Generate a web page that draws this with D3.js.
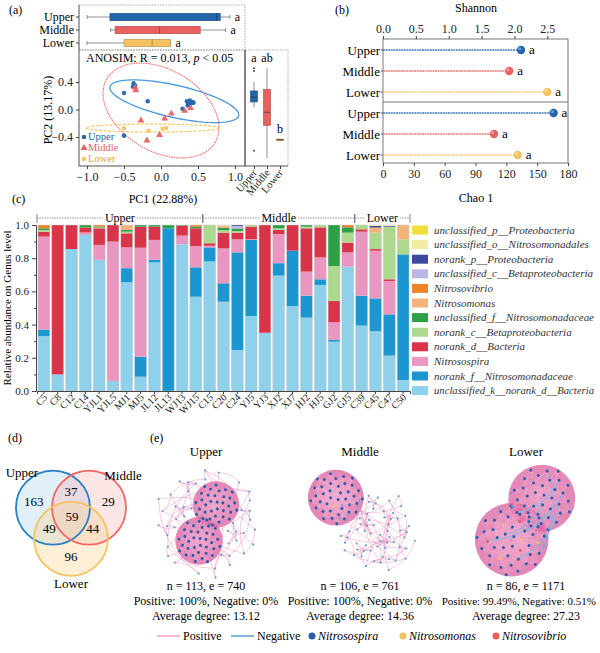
<!DOCTYPE html>
<html>
<head>
<meta charset="utf-8">
<script src="https://cdn.jsdelivr.net/npm/d3@7"></script>
<style>
  body { margin: 0; background: #fff; }
  svg { font-family: "Liberation Serif", "DejaVu Serif", serif; }
</style>
</head>
<body>
<svg id="chart" width="600" height="653"></svg>
<script>
// ---------- data: (a) PCoA ----------
const groups = ["Upper", "Middle", "Lower"];
// [whisker low, q1, median, q3, whisker high]
const pc1Stats = [[-1.0, -0.69, 0.75, 0.80, 0.93], [-0.68, -0.62, -0.02, 0.53, 0.87], [-1.0, -0.50, -0.12, 0.13, 0.13]];
const pc2Stats = [[0.03, 0.11, 0.18, 0.27, 0.40], [-0.71, -0.23, -0.04, 0.29, 0.60], [-0.45, -0.45, -0.44, -0.43, -0.43]];
const pc2Outliers = [[0.60, 0.56, -0.60], [], []];
const pc1Letters = ["a", "a", "a"];
const pc2Letters = ["a", "ab", "b"];
const upperPts = [[-0.37, 0.38], [-0.35, 0.35], [-0.38, 0.33], [-0.5, 0.24], [-0.18, 0.12], [-0.5, -0.38],
  [0.35, 0.12], [0.39, 0.13], [0.41, 0.09], [0.37, 0.08], [0.44, 0.10], [0.29, 0.01], [0.36, 0.06], [0.42, 0.11]];
const middlePts = [[-0.35, 0.32], [-0.34, 0.28], [0.32, -0.02], [0.40, 0.02], [0.14, -0.06], [0.05, -0.13],
  [-0.27, -0.16], [-0.02, -0.37], [-0.19, -0.45]];
const lowerPts = [[-0.5, -0.27], [-0.17, -0.31], [0.02, -0.28], [0.07, -0.27]];
// confidence ellipses: centre, half major axis vector, half minor axis vector (data units)
const ellipses = [[0.18, 0.12, 0.87, -0.21, -0.047, -0.229], [0, -0.015, 0.734, -0.459, -0.275, -0.516], [-0.11, -0.27, 0.905, 0, 0, 0.058]];

// ---------- data: (b) alpha diversity ----------
const shannon = [2.10, 1.92, 2.50];
const chao1 = [166, 108, 131];
const shannonLetters = ["a", "a", "a"];
const chaoLetters = ["a", "a", "a"];

// ---------- data: (c) genus composition ----------
const samples = ["C5", "C8", "C12", "C14", "YJL1", "YJL5", "MJ1", "MJ5", "JL12", "JL13", "WJ13", "WJ15",
  "C15", "C20", "C24", "YJ5", "YJ3", "XJ2", "XJ7", "HJ2", "HJ5", "GJ2", "GJ5", "C39", "C45", "C47", "C50"];
const groupSizes = [12, 11, 4];
// stacking order, bottom to top
const taxa = ["unclassified_k__norank_d__Bacteria", "norank_f__Nitrosomonadaceae", "Nitrosospira", "norank_d__Bacteria",
  "norank_c__Betaproteobacteria", "unclassified_f__Nitrosomonadaceae", "Nitrosomonas", "Nitrosovibrio",
  "unclassified_c__Betaproteobacteria", "norank_p__Proteobacteria", "unclassified_o__Nitrosomonadales", "unclassified_p__Proteobacteria"];
const unclassK = [.33, .10, .855, .94, .79, .06, .655, .086, .775, 0, .884, .568, .78, .538, .247, .452, .351, .695, .512, .442, .639, .297, .749, .394, .361, .213, .066];
const norankF = [.04, 0, 0, 0, 0, 0, .085, .121, .015, .98, 0, .177, .085, .111, .588, .458, 0, .075, .333, .132, .034, .01, 0, .18, .197, .249, .757];
const nitrosospira = [.56, 0, 0, .015, .09, .84, .125, .656, .12, 0, .052, .128, .01, .21, .079, .005, 0, .175, 0, .145, .132, .107, .086, .386, .287, .201, 0];
const norankD = [.03, .90, .145, .03, .10, .10, .085, .127, .08, 0, .06, .107, .015, .095, .04, .075, .649, .025, .155, .261, .181, .128, .059, .014, .01, .01, 0];
const norankC = [.01, 0, 0, 0, .005, 0, .01, 0, 0, 0, 0, 0, .11, .015, .01, .01, 0, .01, 0, .01, .014, .211, .06, .026, .099, .317, .091];
const unclassF = [.01, 0, 0, .015, .005, 0, .01, .01, .01, .02, .004, .01, 0, .015, .015, 0, 0, .02, 0, .01, 0, .247, .032, 0, 0, 0, 0];
const nitrosomonas = [0, 0, 0, 0, 0, 0, .03, 0, 0, 0, 0, 0, 0, .01, 0, 0, 0, 0, 0, 0, 0, 0, 0, 0, .026, 0, .086];
const nitrosovibrio = [.02, 0, 0, 0, .01, 0, 0, 0, 0, 0, 0, .01, 0, 0, 0, 0, 0, 0, 0, 0, 0, 0, .014, 0, .005, 0, 0];
const unclassC = [0, 0, 0, 0, 0, 0, 0, 0, 0, 0, 0, 0, 0, 0, .015, 0, 0, 0, 0, 0, 0, 0, 0, 0, 0, 0, 0];
const norankP = [0, 0, 0, 0, 0, 0, 0, 0, 0, 0, 0, 0, 0, 0, .006, 0, 0, 0, 0, 0, 0, 0, 0, 0, .01, .005, 0];
const unclassO = [0, 0, 0, 0, 0, 0, 0, 0, 0, 0, 0, 0, 0, .006, 0, 0, 0, 0, 0, 0, 0, 0, 0, 0, .005, .005, 0];
const unclassP = [0, 0, 0, 0, 0, 0, 0, 0, 0, 0, 0, 0, 0, 0, 0, 0, 0, 0, 0, 0, 0, 0, 0, 0, 0, 0, 0];
const abundance = [unclassK, norankF, nitrosospira, norankD, norankC, unclassF, nitrosomonas, nitrosovibrio, unclassC, norankP, unclassO, unclassP];

// ---------- data: (d) Venn ----------
const vennOnly = [163, 29, 96];          // Upper, Middle, Lower
const vennPairs = [37, 44, 49];          // U∩M, M∩L, U∩L
const vennAll = 59;

// ---------- data: (e) co-occurrence networks ----------
const netNodes = [113, 106, 86];
const netEdges = [740, 761, 1171];
const netPositive = ["100%", "100%", "99.49%"];
const netNegative = ["0%", "0%", "0.51%"];
const netDegree = ["13.12", "14.36", "27.23"];
const netModules = [
  [36, 34, 6, 5, 4, 4, 3, 3, 2, 2, 2, 2, 1, 1, 1, 1, 1, 1, 1, 1, 1, 1],
  [40, 9, 8, 7, 6, 5, 4, 4, 3, 3, 3, 2, 2, 1, 1, 1, 1, 1, 1, 1, 1, 1, 1],
  [44, 36, 2, 1, 1, 1, 1]
];
const netSomonas = [0, 1, 4];
const netVibrio = [0, 0, 3];

// ---------- styles ----------
const groupColors = ["#2166ac", "#e8615f", "#f5c35f"];
const taxaColors = ["#8fd0ea", "#1b96d1", "#e997c0", "#d8344a", "#acd98e", "#2ea046", "#f2b47c", "#ec8427", "#b9b7e6", "#3c4ba0", "#f1eda6", "#eedf3c"];

const svg = d3.select("#chart");

function styleAxis(g, size) {
  g.attr("font-family", null).attr("font-size", size);
  g.selectAll(".domain").attr("stroke", "#444");
  g.selectAll(".tick line").attr("stroke", "#444");
  g.selectAll(".tick text").attr("fill", "#222");
}

function panelLabel(t, x, y) {
  svg.append("text").attr("x", x).attr("y", y).attr("font-size", 12).text(t);
}

// squeeze a text so that it ends before the right edge
function fitRight(sel, right) {
  const n = sel.node(), w = n.getComputedTextLength(), x = +sel.attr("x");
  if (x + w > right) sel.attr("textLength", right - x).attr("lengthAdjust", "spacingAndGlyphs");
}

// ================= (a) =================
panelLabel("(a)", 9, 14);
const xA = d3.scaleLinear().domain([-1, 1]).range([87, 235]);
const yA = d3.scaleLinear().domain([-0.4, 0.4]).range([137, 82]);
const yTop = d3.scalePoint().domain(groups).range([17, 43]);
const xRight = d3.scalePoint().domain(groups).range([254, 280]);

const frames = [[79, 5, 166, 45], [79, 50, 166, 116], [245, 50, 43, 116]];
svg.selectAll(".frameA").data(frames).join("rect")
  .attr("x", d => d[0]).attr("y", d => d[1]).attr("width", d => d[2]).attr("height", d => d[3])
  .attr("fill", "none").attr("stroke", "#999").attr("stroke-width", 0.8).attr("stroke-dasharray", "1.5,1.2");
svg.append("line").attr("x1", 245).attr("x2", 245).attr("y1", 50).attr("y2", 166).attr("stroke", "#333").attr("stroke-width", 1);

// top horizontal boxplots (PC1)
const topG = svg.append("g");
groups.forEach((g, i) => {
  const s = pc1Stats[i], y = yTop(g);
  topG.append("line").attr("x1", xA(s[0])).attr("x2", xA(s[4])).attr("y1", y).attr("y2", y).attr("stroke", "#777").attr("stroke-width", 0.8);
  [s[0], s[4]].forEach(v => topG.append("line").attr("x1", xA(v)).attr("x2", xA(v)).attr("y1", y - 2).attr("y2", y + 2).attr("stroke", "#777").attr("stroke-width", 0.8));
  topG.append("rect").attr("x", xA(s[1])).attr("y", y - 3.7).attr("width", xA(s[3]) - xA(s[1])).attr("height", 7.4)
    .attr("fill", groupColors[i]).attr("stroke", d3.color(groupColors[i]).darker(0.8)).attr("stroke-width", 0.6);
  topG.append("line").attr("x1", xA(s[2])).attr("x2", xA(s[2])).attr("y1", y - 3.7).attr("y2", y + 3.7).attr("stroke", d3.color(groupColors[i]).darker(1.2)).attr("stroke-width", 0.8);
  topG.append("text").attr("x", xA(s[4]) + 5).attr("y", y + 4).attr("font-size", 12).text(pc1Letters[i]);
  topG.append("text").attr("x", 74).attr("y", y + 4).attr("text-anchor", "end").attr("font-size", 12).text(g);
  topG.append("line").attr("x1", 76).attr("x2", 79).attr("y1", y).attr("y2", y).attr("stroke", "#444");
});

// ellipses
const ellStyles = [["#4a9ad8", null, 1.3], ["#ef7a7a", "1.6,0.8", 1.2], ["#f5c35f", "3,1.5", 1.2]];
ellipses.forEach((e, i) => {
  const pts = d3.range(72).map(t => {
    const a = t / 72 * 2 * Math.PI;
    return [xA(e[0] + e[2] * Math.cos(a) + e[4] * Math.sin(a)), yA(e[1] + e[3] * Math.cos(a) + e[5] * Math.sin(a))];
  });
  svg.append("path").attr("d", d3.line().curve(d3.curveLinearClosed)(pts)).attr("fill", "none")
    .attr("stroke", ellStyles[i][0]).attr("stroke-width", ellStyles[i][2]).attr("stroke-dasharray", ellStyles[i][1]);
});

// scatter points
const symTypes = [d3.symbolCircle, d3.symbolTriangle, d3.symbolSquare];
const symSizes = [16, 20, 14];
[upperPts, middlePts, lowerPts].forEach((pts, i) => {
  svg.append("g").selectAll("path").data(pts).join("path")
    .attr("transform", d => `translate(${xA(d[0])},${yA(d[1])})`)
    .attr("d", d3.symbol(symTypes[i], symSizes[i]))
    .attr("fill", groupColors[i]).attr("fill-opacity", 0.95);
});
// scatter legend
groups.forEach((g, i) => {
  const y = 140 + i * 11;
  svg.append("path").attr("transform", `translate(84,${y - 3})`).attr("d", d3.symbol(symTypes[i], symSizes[i])).attr("fill", groupColors[i]);
  svg.append("text").attr("x", 88).attr("y", y).attr("font-size", 10.5).attr("fill", i === 2 ? "#d9a63d" : groupColors[i]).text(g);
});

const anosim = svg.append("text").attr("x", 86).attr("y", 62).attr("font-size", 12);
anosim.append("tspan").text("ANOSIM: R = 0.013, ");
anosim.append("tspan").attr("font-style", "italic").text("p");
anosim.append("tspan").text(" < 0.05");

// axes (a)
svg.append("g").attr("transform", "translate(79,0)")
  .call(d3.axisLeft(yA).tickValues([-0.4, 0, 0.4]).tickFormat(d3.format(".1f")).tickSize(3))
  .call(g => g.select(".domain").remove()).call(g => styleAxis(g, 12));
svg.append("g").attr("transform", "translate(0,166)")
  .call(d3.axisBottom(xA).tickValues([-1, -0.5, 0, 0.5, 1]).tickFormat(d3.format(".1f")).tickSize(3))
  .call(g => g.select(".domain").remove()).call(g => styleAxis(g, 12));
svg.append("text").attr("transform", "translate(52,110) rotate(-90)").attr("text-anchor", "middle").attr("font-size", 12).text("PC2 (13.17%)");
svg.append("text").attr("x", 163).attr("y", 203).attr("text-anchor", "middle").attr("font-size", 12).text("PC1 (22.88%)");

// right vertical boxplots (PC2)
groups.forEach((g, i) => {
  const s = pc2Stats[i], x = xRight(g), col = groupColors[i];
  svg.append("line").attr("x1", x).attr("x2", x).attr("y1", yA(s[0])).attr("y2", yA(s[4])).attr("stroke", "#777").attr("stroke-width", 0.8);
  svg.append("rect").attr("x", x - 3.5).attr("y", yA(s[3])).attr("width", 7).attr("height", Math.max(1.5, yA(s[1]) - yA(s[3])))
    .attr("fill", i === 2 ? "#b07a50" : col).attr("stroke", d3.color(col).darker(0.8)).attr("stroke-width", 0.6);
  svg.append("line").attr("x1", x - 3.5).attr("x2", x + 3.5).attr("y1", yA(s[2])).attr("y2", yA(s[2])).attr("stroke", "#333").attr("stroke-width", 0.7);
  pc2Outliers[i].forEach(v => svg.append("circle").attr("cx", x).attr("cy", yA(v)).attr("r", 0.9).attr("fill", "#333"));
  const top = d3.min([yA(s[4])].concat(pc2Outliers[i].map(yA)));
  svg.append("text").attr("x", x).attr("y", top - 6).attr("text-anchor", "middle").attr("font-size", 12).text(pc2Letters[i]);
});
svg.append("g").attr("transform", "translate(0,166)")
  .call(d3.axisBottom(xRight).tickSize(3))
  .call(g => g.select(".domain").remove()).call(g => styleAxis(g, 10.5))
  .call(g => g.selectAll(".tick text").attr("text-anchor", "end").attr("dy", null).attr("y", 0)
    .attr("transform", "translate(3,7) rotate(-50)"));
svg.append("line").attr("x1", 79).attr("x2", 288).attr("y1", 166).attr("y2", 166).attr("stroke", "#444").attr("stroke-width", 0.8);
svg.append("line").attr("x1", 79).attr("x2", 79).attr("y1", 5).attr("y2", 166).attr("stroke", "#444").attr("stroke-width", 0.8);

// ================= (b) =================
panelLabel("(b)", 335, 14);
const xShannon = d3.scaleLinear().domain([0, 2.815]).range([383, 568]);
const xChao = d3.scaleLinear().domain([0, 180]).range([383, 568]);
const yB1 = d3.scalePoint().domain(groups).range([50, 92]);
const yB2 = d3.scalePoint().domain(groups).range([113, 155]);
svg.append("rect").attr("x", 383).attr("y", 39).attr("width", 185).attr("height", 124).attr("fill", "none").attr("stroke", "#555").attr("stroke-width", 0.8);
svg.append("line").attr("x1", 383).attr("x2", 568).attr("y1", 102).attr("y2", 102).attr("stroke", "#555").attr("stroke-width", 0.8);
svg.append("g").attr("transform", "translate(0,39)")
  .call(d3.axisTop(xShannon).tickValues([0, 0.5, 1, 1.5, 2, 2.5]).tickFormat(d3.format(".1f")).tickSize(3))
  .call(g => g.select(".domain").remove()).call(g => styleAxis(g, 12));
svg.append("g").attr("transform", "translate(0,163)")
  .call(d3.axisBottom(xChao).tickValues(d3.range(0, 181, 30)).tickSize(3))
  .call(g => g.select(".domain").remove()).call(g => styleAxis(g, 12));
svg.append("text").attr("x", 476).attr("y", 12).attr("text-anchor", "middle").attr("font-size", 12).text("Shannon");
svg.append("text").attr("x", 476).attr("y", 202).attr("text-anchor", "middle").attr("font-size", 12).text("Chao 1");

function lollipop(vals, letters, xs, ys) {
  groups.forEach((g, i) => {
    const y = ys(g), col = groupColors[i];
    svg.append("line").attr("x1", xs(0)).attr("x2", xs(vals[i])).attr("y1", y).attr("y2", y)
      .attr("stroke", col).attr("stroke-width", 1.6).attr("stroke-opacity", 0.85).attr("stroke-dasharray", "2,0.6");
    svg.append("circle").attr("cx", xs(vals[i])).attr("cy", y).attr("r", 4.2).attr("fill", col);
    svg.append("circle").attr("cx", xs(vals[i]) - 1.3).attr("cy", y - 1.3).attr("r", 1.6).attr("fill", "#fff").attr("fill-opacity", 0.35);
    svg.append("text").attr("x", xs(vals[i]) + 8).attr("y", y + 4).attr("font-size", 13).text(letters[i]);
    svg.append("text").attr("x", 380).attr("y", y + 4.5).attr("text-anchor", "end").attr("font-size", 13).text(g);
    svg.append("line").attr("x1", 381).attr("x2", 383).attr("y1", y).attr("y2", y).attr("stroke", "#555");
  });
}
lollipop(shannon, shannonLetters, xShannon, yB1);
lollipop(chao1, chaoLetters, xChao, yB2);

// ================= (c) =================
panelLabel("(c)", 12, 203);
const xC = d3.scaleBand().domain(samples).range([37, 410]).paddingInner(0.14).paddingOuter(0.07);
const yC = d3.scaleLinear().domain([0, 1]).range([391, 225]);
const table = samples.map((s, i) => {
  const row = { sample: s };
  taxa.forEach((t, j) => { row[t] = abundance[j][i]; });
  return row;
});
const stacked = d3.stack().keys(taxa)(table);
svg.append("g").selectAll("g").data(stacked).join("g")
  .attr("fill", (d, i) => taxaColors[i])
  .selectAll("rect").data(d => d).join("rect")
  .attr("x", d => xC(d.data.sample)).attr("width", xC.bandwidth())
  .attr("y", d => yC(d[1])).attr("height", d => Math.max(0, yC(d[0]) - yC(d[1])));
svg.append("g").selectAll("rect").data(samples).join("rect")
  .attr("x", d => xC(d)).attr("width", xC.bandwidth()).attr("y", yC(1)).attr("height", yC(0) - yC(1))
  .attr("fill", "none").attr("stroke", "#c8c8c8").attr("stroke-width", 0.5);

svg.append("g").attr("transform", "translate(36,0)")
  .call(d3.axisLeft(yC).tickValues([0, 0.2, 0.4, 0.6, 0.8, 1]).tickFormat(d3.format(".1f")).tickSize(4))
  .call(g => styleAxis(g, 11));
svg.append("g").attr("transform", "translate(36,0)")
  .call(d3.axisLeft(yC).tickValues([0.1, 0.3, 0.5, 0.7, 0.9]).tickFormat("").tickSize(2))
  .call(g => g.select(".domain").remove()).call(g => styleAxis(g, 11));
svg.append("g").attr("transform", "translate(0,391)")
  .call(d3.axisBottom(xC).tickSize(3))
  .call(g => g.select(".domain").attr("stroke", "#444"))
  .call(g => styleAxis(g, 10))
  .call(g => g.selectAll(".tick text").attr("text-anchor", "end").attr("dy", null).attr("y", 0)
    .attr("transform", "translate(4,7) rotate(-45)"));
svg.append("text").attr("transform", "translate(11,308) rotate(-90)").attr("text-anchor", "middle").attr("font-size", 11)
  .text("Relative abundance on Genus level");

// group brackets
let start = 0;
groupSizes.forEach((n, i) => {
  const x0 = xC(samples[start]) - 1, x1 = xC(samples[start + n - 1]) + xC.bandwidth() + 1, y = 218;
  const bg = svg.append("g");
  bg.append("line").attr("x1", x0).attr("x2", x1).attr("y1", y).attr("y2", y).attr("stroke", "#777").attr("stroke-width", 0.8).attr("stroke-dasharray", "1.5,1");
  [x0, x1].forEach(x => bg.append("line").attr("x1", x).attr("x2", x).attr("y1", y - 4).attr("y2", y + 5).attr("stroke", "#666").attr("stroke-width", 0.8));
  const lbl = bg.append("text").attr("x", (x0 + x1) / 2).attr("y", y + 4).attr("text-anchor", "middle").attr("font-size", 12).text(groups[i]);
  const bb = lbl.node().getBBox();
  bg.insert("rect", "text").attr("x", bb.x - 2).attr("y", y - 3).attr("width", bb.width + 4).attr("height", 6).attr("fill", "#fff");
  start += n;
});

// legend (c)
const legC = svg.append("g");
taxa.slice().reverse().forEach((t, i) => {
  const j = taxa.length - 1 - i, y = 230 + i * 14.6;
  legC.append("rect").attr("x", 412).attr("y", y - 4.5).attr("width", 16).attr("height", 9).attr("fill", taxaColors[j]);
  legC.append("text").attr("x", 434).attr("y", y + 3.5).attr("font-size", 11).attr("font-style", "italic").attr("fill", "#333").text(t)
    .call(s => fitRight(s, 594));
});

// ================= (d) Venn =================
panelLabel("(d)", 8, 442);
const vennC = [71, 518], vennD = 20.8, vennR = 37;
const vennAng = [210, 330, 90].map(a => a * Math.PI / 180);
const vennFill = ["#a9d0ec", "#f6b4b4", "#f8d58c"];
const vennStroke = ["#2a7fc4", "#ee6666", "#f4c35e"];
const polar = (a, d) => [vennC[0] + d * Math.cos(a), vennC[1] + d * Math.sin(a)];
vennAng.forEach((a, i) => {
  const [x, y] = polar(a, vennD);
  svg.append("circle").attr("cx", x).attr("cy", y).attr("r", vennR).attr("fill", vennFill[i]).attr("fill-opacity", 0.35);
});
vennAng.forEach((a, i) => {
  const [x, y] = polar(a, vennD);
  svg.append("circle").attr("cx", x).attr("cy", y).attr("r", vennR).attr("fill", "none").attr("stroke", vennStroke[i]).attr("stroke-width", 1.8);
});
const vennText = (t, p) => svg.append("text").attr("x", p[0]).attr("y", p[1]).attr("text-anchor", "middle").attr("dominant-baseline", "middle").attr("font-size", 13).text(t);
vennOnly.forEach((v, i) => vennText(v, polar(vennAng[i] - (i === 2 ? 0 : (i === 0 ? 0.15 : -0.15)), 40)));
vennPairs.forEach((v, i) => vennText(v, polar(vennAng[(i + 2) % 3] + Math.PI, 25)));
vennText(vennAll, polar(0, 1));
[[222, 66], [322, 66], [90, 67]].forEach((p, i) => vennText(groups[i], polar(p[0] * Math.PI / 180, p[1])));

// ================= (e) networks =================
panelLabel("(e)", 150, 442);
const genusColors = ["#2b5ca8", "#f1c068", "#e4605a"];

function drawNetwork(ni, cx, cy, rot, spread, sparseWeight, groupSparse, sparseScale) {
  const R = 52;
  const nNeg = Math.round(netEdges[ni] * parseFloat(netNegative[ni]) / 100);
  const modData = netModules[ni].map(s => ({ size: s }));
  const denseData = modData.filter(d => d.size >= 20), sparseData = modData.filter(d => d.size < 20);
  const kids = groupSparse ? denseData.concat([{ children: sparseData }]) : modData;
  const root = d3.hierarchy({ children: kids })
    .sum(d => d.size ? (d.size >= 20 ? d.size : d.size * sparseWeight) : 0);
  d3.pack().size([2 * R, 2 * R]).padding(1.5)(root);
  const nodes = [], mods = [];
  root.leaves().forEach(leaf => {
    const size = leaf.data.size, dense = size >= 20, ids = [];
    const rad = leaf.r * (dense ? spread : 0.9);
    for (let k = 0; k < size; k++) {
      const rr = size === 1 ? 0 : rad * Math.sqrt((k + 0.5) / size), ang = k * 2.39996;
      ids.push(nodes.length);
      nodes.push({ x: leaf.x - R + rr * Math.cos(ang), y: leaf.y - R + rr * Math.sin(ang), dense, genus: 0 });
    }
    mods.push({ ids, dense, x: leaf.x - R, y: leaf.y - R, r: rad });
  });
  // loosen the sparse part around its own centre
  const loose = nodes.filter(d => !d.dense);
  if (loose.length && sparseScale !== 1) {
    const mx = d3.mean(loose, d => d.x), my = d3.mean(loose, d => d.y);
    loose.forEach(d => { d.x = mx + (d.x - mx) * sparseScale; d.y = my + (d.y - my) * sparseScale; });
  }
  const denseMods = mods.filter(m => m.dense), sparseMods = mods.filter(m => !m.dense);
  for (let j = 0; j < netSomonas[ni]; j++) nodes[denseMods[0].ids[j * 7 + 3]].genus = 1;
  for (let j = 0; j < netVibrio[ni]; j++) nodes[denseMods[0].ids[j * 7 + 6]].genus = 2;

  const sparseLinks = [], denseLinks = [], negLinks = [];
  sparseMods.forEach((m, j) => {
    const s = m.ids.length;
    if (s === 2) sparseLinks.push([m.ids[0], m.ids[1]]);
    if (s >= 3) m.ids.forEach((id, k) => sparseLinks.push([id, m.ids[(k + 1) % s]]));
    if (j + 1 < sparseMods.length) sparseLinks.push([m.ids[0], sparseMods[j + 1].ids[0]]);
    if (j + 3 < sparseMods.length && s > 1) sparseLinks.push([m.ids[s - 1], sparseMods[j + 3].ids[0]]);
  });
  if (sparseMods.length) denseMods.forEach((d, j) => sparseLinks.push([d.ids[d.ids.length - 1 - j], sparseMods[j % sparseMods.length].ids[0]]));
  for (let j = 0; j < nNeg; j++) negLinks.push([denseMods[0].ids[j * 6 + 2], denseMods[1].ids[j * 5 + 1]]);
  const denseTotal = d3.sum(denseMods, m => m.ids.length);
  const kDeg = Math.round((netEdges[ni] - nNeg - sparseLinks.length) / denseTotal);
  denseMods.forEach(m => {
    const s = m.ids.length;
    m.ids.forEach((id, a) => {
      for (let o = 1; o <= kDeg; o++) {
        const b = (a + o * o) % s;
        if (b !== a) denseLinks.push([id, m.ids[b]]);
      }
    });
  });

  const arc = d => {
    const a = nodes[d[0]], b = nodes[d[1]];
    const mx = (a.x + b.x) / 2 - (b.y - a.y) * 0.25, my = (a.y + b.y) / 2 + (b.x - a.x) * 0.25;
    return `M${a.x},${a.y}Q${mx},${my} ${b.x},${b.y}`;
  };
  const g = svg.append("g").attr("transform", `translate(${cx},${cy}) rotate(${rot})`);
  // the mass of edges inside a dense module
  g.append("g").selectAll("circle").data(denseMods).join("circle")
    .attr("cx", d => d.x).attr("cy", d => d.y).attr("r", d => d.r + 1.2)
    .attr("fill", "#d9609f").attr("fill-opacity", 0.75);
  g.append("g").selectAll("line").data(denseLinks).join("line")
    .attr("x1", d => nodes[d[0]].x).attr("y1", d => nodes[d[0]].y)
    .attr("x2", d => nodes[d[1]].x).attr("y2", d => nodes[d[1]].y)
    .attr("stroke", "#f3b6d4").attr("stroke-opacity", 0.22).attr("stroke-width", 0.5);
  g.append("g").selectAll("path").data(sparseLinks).join("path").attr("d", arc)
    .attr("fill", "none").attr("stroke", "#e98ab8").attr("stroke-opacity", 0.8).attr("stroke-width", 0.5);
  g.append("g").selectAll("path").data(negLinks).join("path").attr("d", arc)
    .attr("fill", "none").attr("stroke", "#7fbbe6").attr("stroke-width", 1);
  g.append("g").selectAll("circle").data(nodes).join("circle")
    .attr("cx", d => d.x).attr("cy", d => d.y).attr("r", d => d.dense ? 1.5 : 1.1)
    .attr("fill", d => d.dense ? genusColors[d.genus] : "#6d9fd6");

  const tx = svg.append("g").attr("text-anchor", "middle").attr("font-size", 12);
  tx.append("text").attr("x", cx).attr("y", 456).attr("font-size", 13).text(groups[ni]);
  tx.append("text").attr("x", cx).attr("y", 590).text(`n = ${netNodes[ni]}, e = ${netEdges[ni]}`);
  const pn = tx.append("text").attr("x", cx).attr("y", 605).text(`Positive: ${netPositive[ni]}, Negative: ${netNegative[ni]}`);
  const w = pn.node().getComputedTextLength();
  if (cx + w / 2 > 596) {
    const left = Math.max(cx - w / 2, 441), fs = 12 * Math.min(1, (596 - left) / w);
    pn.attr("text-anchor", "start").attr("x", left).attr("font-size", fs.toFixed(2));
  }
  tx.append("text").attr("x", cx).attr("y", 620).text(`Average degree: ${netDegree[ni]}`);
}
drawNetwork(0, 206, 522, -65, 1.15, 2.2, false, 1.15);
drawNetwork(1, 360, 518, 40, 1.4, 0.8, true, 1.55);
drawNetwork(2, 526, 520, -54, 1.36, 2.2, false, 1);

// legend (e)
const legE = svg.append("g").attr("font-size", 12);
[["Positive", "#e98ab8", 157], ["Negative", "#3b86c8", 231]].forEach(d => {
  legE.append("line").attr("x1", d[2]).attr("x2", d[2] + 23).attr("y1", 636).attr("y2", 636).attr("stroke", d[1]).attr("stroke-width", 1.2);
  legE.append("text").attr("x", d[2] + 26).attr("y", 640).text(d[0]);
});
[["Nitrosospira", 312], ["Nitrosomonas", 403], ["Nitrosovibrio", 496]].forEach((d, i) => {
  legE.append("circle").attr("cx", d[1]).attr("cy", 636).attr("r", 3.5).attr("fill", genusColors[i]);
  legE.append("text").attr("x", d[1] + 6).attr("y", 640).attr("font-style", "italic").text(d[0]);
});
</script>
</body>
</html>
